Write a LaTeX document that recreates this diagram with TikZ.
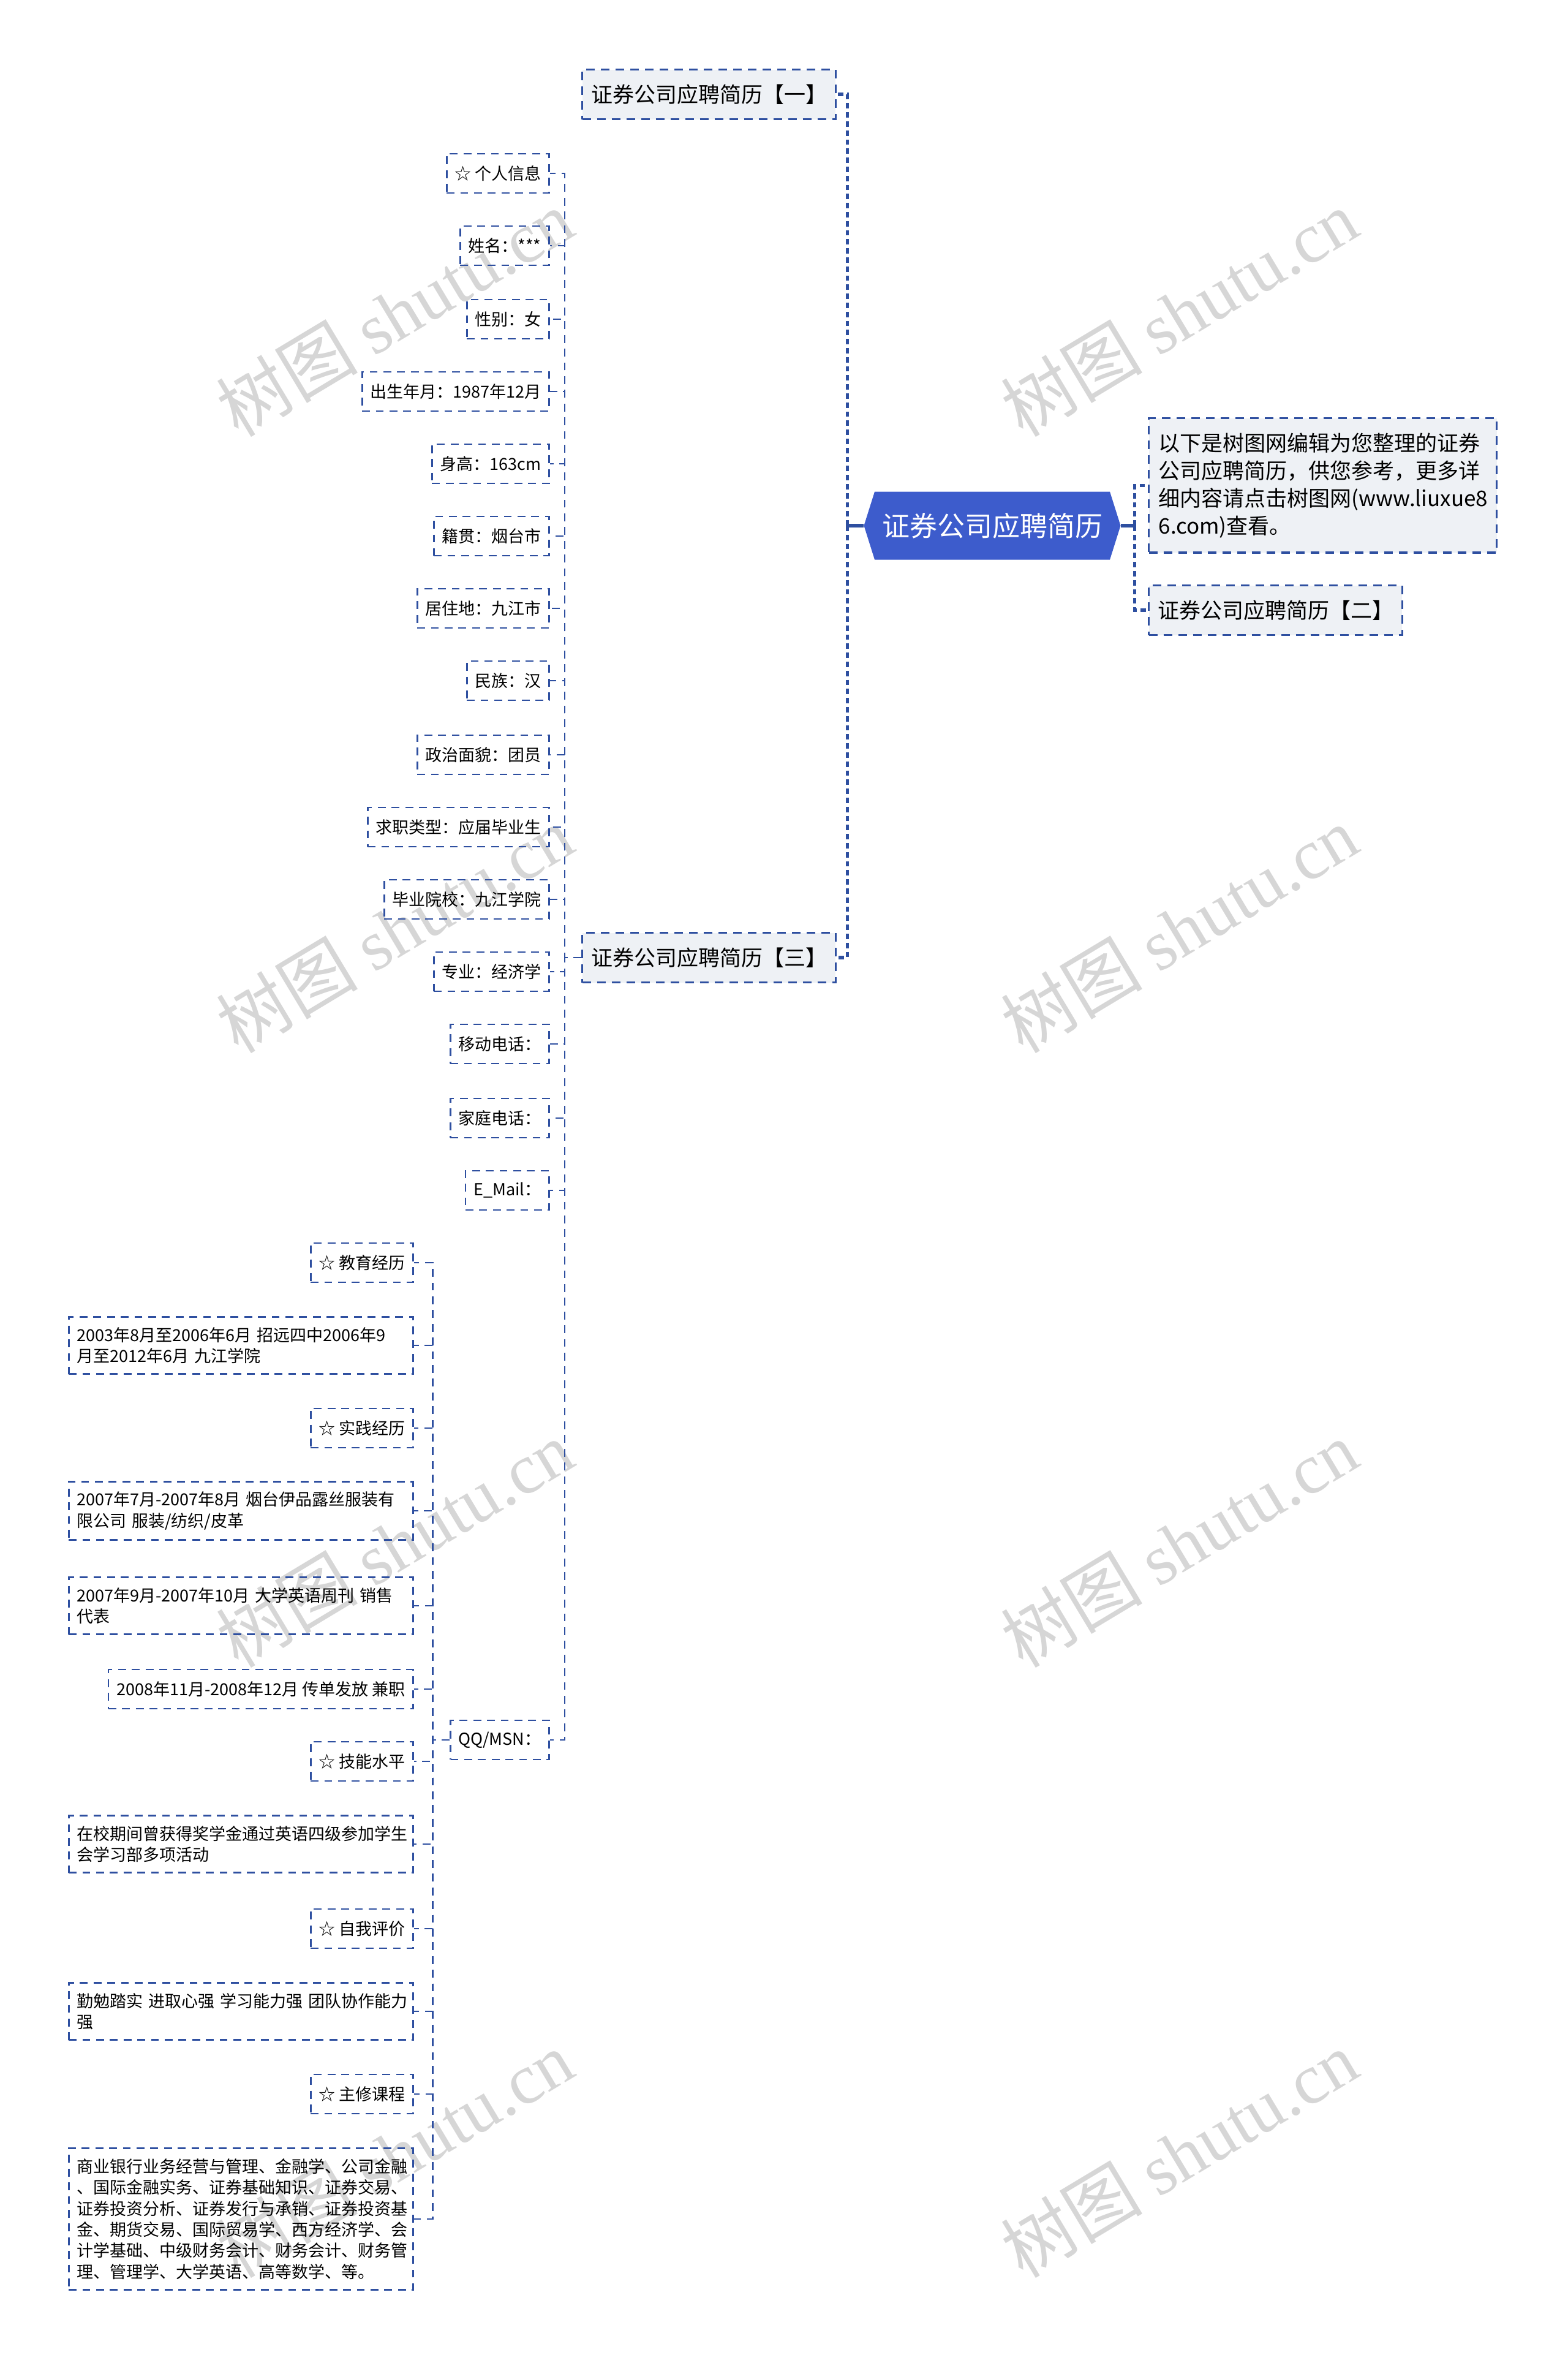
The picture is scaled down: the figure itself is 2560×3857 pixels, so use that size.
\documentclass[tikz,border=0pt]{standalone}
\usepackage{fontspec}
\setmainfont{Noto Sans CJK SC}
\newfontfamily\markfont{Liberation Serif}
\usetikzlibrary{shapes.symbols}

\definecolor{linkblue}{RGB}{46,79,160}
\definecolor{rootblue}{RGB}{61,92,204}
\definecolor{subgray}{RGB}{238,241,245}
\definecolor{markgray}{RGB}{214,214,214}

\begin{document}
\begin{tikzpicture}[x=0.25pt, y=-0.25pt,
rootnode/.style={signal, signal to=west and east, signal pointer angle=145, fill=rootblue, text=white, font=\fontsize{11.25}{14}\selectfont, minimum height=27.75pt, inner xsep=3pt},
subnode/.style={draw=linkblue, fill=subgray, line width=0.8pt, dash pattern=on 3.5pt off 2.5pt, font=\fontsize{8.75}{11.25}\selectfont, minimum height=20.25pt, inner xsep=3.6pt, inner ysep=5pt},
leafnode/.style={draw=linkblue, line width=0.7pt, dash pattern=on 3.2pt off 2.4pt, font=\fontsize{6.75}{8.6}\selectfont, minimum height=16pt, inner xsep=3.3pt, inner ysep=4.2pt},
widenode/.style={leafnode, align=left, text width=134pt, inner xsep=3.3pt},
trunk/.style={draw=linkblue, line width=1.3pt, dash pattern=on 2.2pt off 1.5pt},
link/.style={draw=linkblue, line width=0.7pt, dash pattern=on 3.2pt off 2.4pt},
wmark/.style={text=markgray, font=\fontsize{29}{29}\selectfont, rotate=31}
]
\useasboundingbox (0,0) rectangle (2560,3857);

%Watermarks
\node[wmark] (w1) at (644,511)  {树图 {\markfont shutu.cn}};
\node[wmark] (w2) at (644,1517) {树图 {\markfont shutu.cn}};
\node[wmark] (w3) at (644,2520) {树图 {\markfont shutu.cn}};
\node[wmark] (w4) at (644,3516) {树图 {\markfont shutu.cn}};
\node[wmark] (w5) at (1925,511)  {树图 {\markfont shutu.cn}};
\node[wmark] (w6) at (1925,1517) {树图 {\markfont shutu.cn}};
\node[wmark] (w7) at (1925,2520) {树图 {\markfont shutu.cn}};
\node[wmark] (w8) at (1925,3516) {树图 {\markfont shutu.cn}};

%Nodes
\node[rootnode] (root) at (1620,858) {证券公司应聘简历};

\node[subnode, anchor=west] (one)   at (949,154)  {证券公司应聘简历【一】};
\node[subnode, anchor=west] (three) at (949,1563) {证券公司应聘简历【三】};
\node[subnode, anchor=north west, align=left, text width=134pt, inner xsep=4pt, inner ysep=6pt] (desc) at (1874,681)
  {以下是树图网编辑为您整理的证券\\公司应聘简历，供您参考，更多详\\细内容请点击树图网(www.liuxue8\\6.com)查看。};
\node[subnode, anchor=west] (two)   at (1874,996) {证券公司应聘简历【二】};

\node[leafnode, anchor=east] (p1)  at (898,283)  {☆ 个人信息};
\node[leafnode, anchor=east] (p2)  at (898,401)  {姓名：***};
\node[leafnode, anchor=east] (p3)  at (898,521)  {性别：女};
\node[leafnode, anchor=east] (p4)  at (898,639)  {出生年月：1987年12月};
\node[leafnode, anchor=east] (p5)  at (898,757)  {身高：163cm};
\node[leafnode, anchor=east] (p6)  at (898,875)  {籍贯：烟台市};
\node[leafnode, anchor=east] (p7)  at (898,993)  {居住地：九江市};
\node[leafnode, anchor=east] (p8)  at (898,1111) {民族：汉};
\node[leafnode, anchor=east] (p9)  at (898,1232) {政治面貌：团员};
\node[leafnode, anchor=east] (p10) at (898,1350) {求职类型：应届毕业生};
\node[leafnode, anchor=east] (p11) at (898,1468) {毕业院校：九江学院};
\node[leafnode, anchor=east] (p12) at (898,1586) {专业：经济学};
\node[leafnode, anchor=east] (p13) at (898,1704) {移动电话：};
\node[leafnode, anchor=east] (p14) at (898,1825) {家庭电话：};
\node[leafnode, anchor=east] (p15) at (898,1943) {E\_Mail：};
\node[leafnode, anchor=east] (qq)  at (898,2840) {QQ/MSN：};

\node[leafnode, anchor=east] (q1)  at (676,2061) {☆ 教育经历};
\node[widenode, anchor=east] (q2)  at (676,2196) {\mbox{2003年8月至2006年6月 招远四中2006年9}\\月至2012年6月 九江学院};
\node[leafnode, anchor=east] (q3)  at (676,2331) {☆ 实践经历};
\node[widenode, anchor=east] (q4)  at (676,2466) {\mbox{2007年7月-2007年8月 烟台伊品露丝服装有}\\限公司 服装/纺织/皮革};
\node[widenode, anchor=east] (q5)  at (676,2621) {\mbox{2007年9月-2007年10月 大学英语周刊 销售}\\代表};
\node[leafnode, anchor=east] (q6)  at (676,2757) {2008年11月-2008年12月 传单发放 兼职};
\node[leafnode, anchor=east] (q7)  at (676,2875) {☆ 技能水平};
\node[widenode, anchor=east] (q8)  at (676,3010) {在校期间曾获得奖学金通过英语四级参加学生\\会学习部多项活动};
\node[leafnode, anchor=east] (q9)  at (676,3148) {☆ 自我评价};
\node[widenode, anchor=east] (q10) at (676,3283) {\mbox{勤勉踏实 进取心强 学习能力强 团队协作能力}\\强};
\node[leafnode, anchor=east] (q11) at (676,3418) {☆ 主修课程};
\node[widenode, anchor=east] (q12) at (676,3622) {商业银行业务经营与管理、金融学、公司金融\\、国际金融实务、证券基础知识、证券交易、\\证券投资分析、证券发行与承销、证券投资基\\金、期货交易、国际贸易学、西方经济学、会\\计学基础、中级财务会计、财务会计、财务管\\理、管理学、大学英语、高等数学、等。};

%Lines
\draw[linkblue, line width=1.3pt] (root.west) -- ++(-26,0) coordinate (lt);
\draw[trunk] (lt) |- (one.east);
\draw[trunk] (lt) |- (three.east);
\draw[linkblue, line width=1.3pt] (root.east) -- ++(22,0) coordinate (rt);
\draw[trunk] (rt) |- (desc.west);
\draw[trunk] (rt) |- (two.west);

\draw[link] (three.west) -- ++(-27,0) |- (p1.east);
\draw[link] (three.west) -- ++(-27,0) |- (p2.east);
\draw[link] (three.west) -- ++(-27,0) |- (p3.east);
\draw[link] (three.west) -- ++(-27,0) |- (p4.east);
\draw[link] (three.west) -- ++(-27,0) |- (p5.east);
\draw[link] (three.west) -- ++(-27,0) |- (p6.east);
\draw[link] (three.west) -- ++(-27,0) |- (p7.east);
\draw[link] (three.west) -- ++(-27,0) |- (p8.east);
\draw[link] (three.west) -- ++(-27,0) |- (p9.east);
\draw[link] (three.west) -- ++(-27,0) |- (p10.east);
\draw[link] (three.west) -- ++(-27,0) |- (p11.east);
\draw[link] (three.west) -- ++(-27,0) |- (p12.east);
\draw[link] (three.west) -- ++(-27,0) |- (p13.east);
\draw[link] (three.west) -- ++(-27,0) |- (p14.east);
\draw[link] (three.west) -- ++(-27,0) |- (p15.east);
\draw[link] (three.west) -- ++(-27,0) |- (qq.east);

\draw[link] (qq.west) -- ++(-28,0) |- (q1.east);
\draw[link] (qq.west) -- ++(-28,0) |- (q2.east);
\draw[link] (qq.west) -- ++(-28,0) |- (q3.east);
\draw[link] (qq.west) -- ++(-28,0) |- (q4.east);
\draw[link] (qq.west) -- ++(-28,0) |- (q5.east);
\draw[link] (qq.west) -- ++(-28,0) |- (q6.east);
\draw[link] (qq.west) -- ++(-28,0) |- (q7.east);
\draw[link] (qq.west) -- ++(-28,0) |- (q8.east);
\draw[link] (qq.west) -- ++(-28,0) |- (q9.east);
\draw[link] (qq.west) -- ++(-28,0) |- (q10.east);
\draw[link] (qq.west) -- ++(-28,0) |- (q11.east);
\draw[link] (qq.west) -- ++(-28,0) |- (q12.east);
\end{tikzpicture}
\end{document}
